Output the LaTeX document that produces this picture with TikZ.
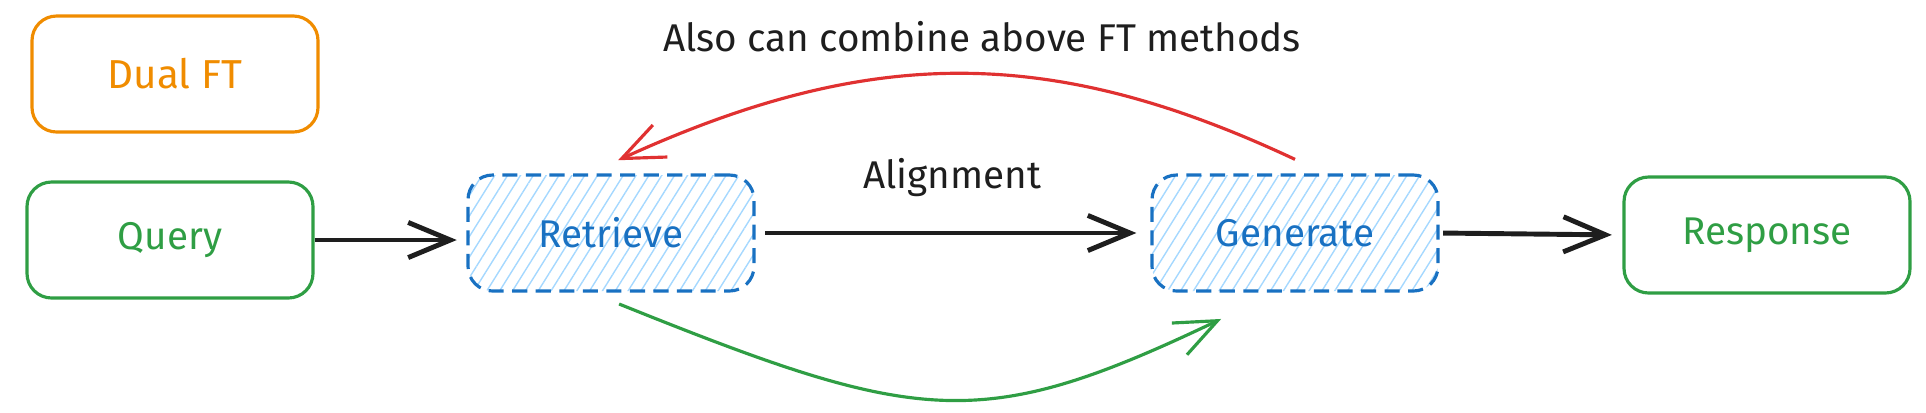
\documentclass[tikz,border=0pt]{standalone}
\usepackage{fontspec}
\setmainfont{Fira Sans}
\usetikzlibrary{arrows.meta,patterns.meta}
\definecolor{exorange}{HTML}{F08C00}
\definecolor{exgreen}{HTML}{2F9E44}
\definecolor{exblue}{HTML}{1971C2}
\definecolor{exhatch}{HTML}{A5D8FF}
\definecolor{exred}{HTML}{E03131}
\definecolor{exblack}{HTML}{1E1E1E}
\begin{document}
\begin{tikzpicture}[auto,
    box/.style={draw, rounded corners=7pt, line width=0.9pt, minimum width=2.86cm,
      minimum height=1.16cm, font=\fontsize{11}{13}\selectfont},
    stage/.style={box, draw=exblue, text=exblue, dash pattern=on 4.3pt off 2.4pt,
      pattern={Lines[angle=58,distance=3.1pt,line width=0.4pt]}, pattern color=exhatch},
    flow/.style={line width=1.4pt, draw=exblack, -{Straight Barb[length=12pt,width=10pt]}},
    back/.style={line width=0.9pt, -{Straight Barb[length=12pt,width=10pt]}},
    lbl/.style={text=exblack, font=\fontsize{11}{13}\selectfont}]
    \useasboundingbox (0,0) rectangle (19.26,4.12);
    \node[box, draw=exorange, text=exorange, font=\fontsize{11.5}{13}\selectfont] (d) at (1.75, 3.38) {Dual FT};
    \node[box, draw=exgreen, text=exgreen] (q) at (1.70, 1.72) {Query};
    \node[stage] (r) at (6.11, 1.79) {Retrieve};
    \node[stage] (g) at (12.95, 1.79) {Generate};
    \node[box, draw=exgreen, text=exgreen] (s) at (17.67, 1.77) {Response};
    \node[lbl] (al) at (9.52, 2.34) {Alignment};
    \node[lbl] (cm) at (9.82, 3.75) {Also can combine above FT methods};
    \draw [flow, shorten >=3pt] (q.east) to (q.east -| r.west);
    \draw [flow, shorten <=3pt, shorten >=4pt] (r.east) to (g.west);
    \draw [flow, shorten <=1pt, shorten >=3pt] (g.east) to (s.west);
    \draw [back, draw=exred] ([yshift=4pt]g.north)
      .. controls +(-2.45,1.15) and +(2.52,1.15) .. ([xshift=2pt, yshift=4pt]r.north);
    \draw [back, draw=exgreen] ([xshift=2.3pt, yshift=-3.5pt]r.south)
      .. controls +(3.01,-1.21) and +(-2.41,-1.15) .. ([xshift=-21pt, yshift=-7.5pt]g.south);
  \end{tikzpicture}
\end{document}
